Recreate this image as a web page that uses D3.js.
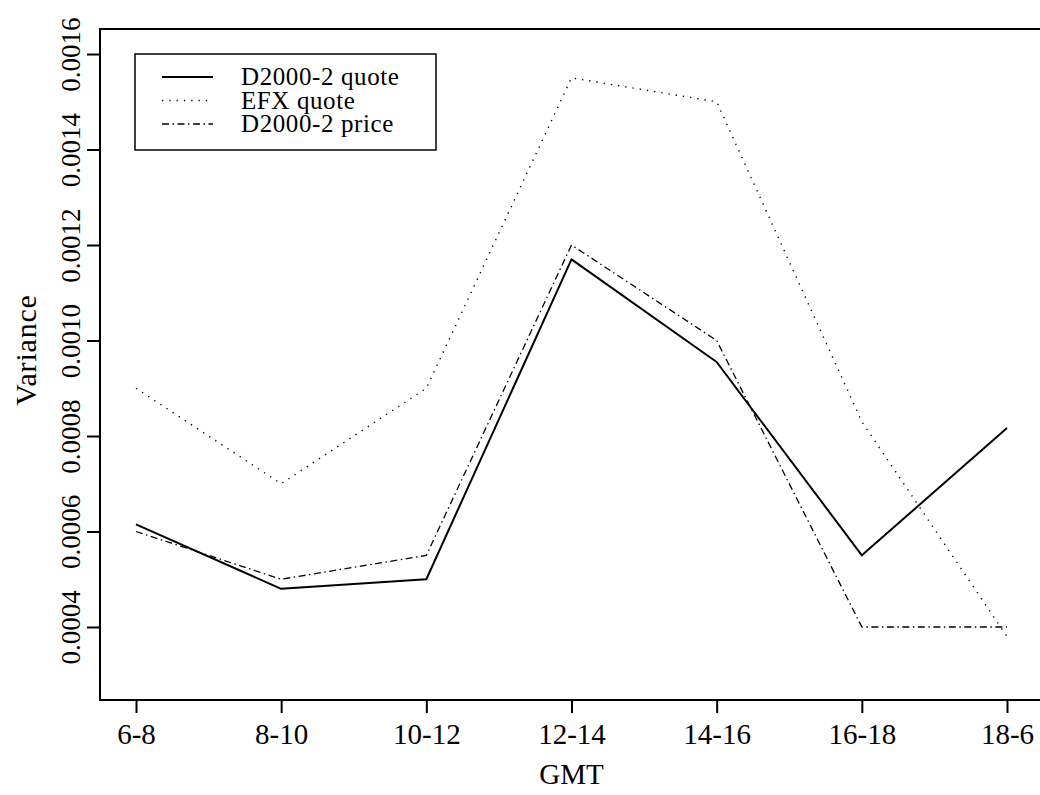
<!DOCTYPE html>
<html>
<head>
<meta charset="utf-8">
<script src="https://cdn.jsdelivr.net/npm/d3@7"></script>
<style>
  body { margin: 0; background: #fff; }
  svg text { font-family: "Liberation Serif", "Times New Roman", serif; fill: #000; }
</style>
</head>
<body>
<svg id="chart" width="1040" height="795"></svg>
<script>
// time-of-day buckets (GMT)
const periods = ["6-8", "8-10", "10-12", "12-14", "14-16", "16-18", "18-6"]

const d2000Quote = [0.000615, 0.00048, 0.0005, 0.00117, 0.000955, 0.00055, 0.000817]
const efxQuote   = [0.0009, 0.0007, 0.0009, 0.00155, 0.0015, 0.00083, 0.00038]
const d2000Price = [0.0006, 0.0005, 0.00055, 0.0012, 0.001, 0.0004, 0.0004]

const yTicks = [0.0004, 0.0006, 0.0008, 0.0010, 0.0012, 0.0014, 0.0016]

const series = [
    { name: "D2000-2 quote", values: d2000Quote, dash: null, width: 2 },
    { name: "EFX quote", values: efxQuote, dash: "1.3,6", width: 1.4 },
    { name: "D2000-2 price", values: d2000Price, dash: "7,3.5,1.5,3.5", width: 1.3 },
]

const svg = d3.select("#chart")
const plotL = 100, plotT = 29, plotB = 700, plotR = 1043

let x = d3.scaleLinear()
    .domain([0, periods.length - 1])
    .range([136, 1007])

let y = d3.scaleLinear()
    .domain([0.0002471, 0.0016524])
    .range([plotB, plotT])

// frame
svg.append("rect")
    .attr("x", plotL)
    .attr("y", plotT)
    .attr("width", plotR - plotL)
    .attr("height", plotB - plotT)
    .attr("fill", "none")
    .attr("stroke", "#000")
    .attr("stroke-width", 2)

// x axis
let xAxis = svg.append("g")
    .attr("transform", `translate(0, ${plotB})`)
    .call(d3.axisBottom(x)
        .tickValues(d3.range(periods.length))
        .tickFormat(i => periods[i])
        .tickSize(13)
        .tickPadding(10))
xAxis.attr("font-family", null)
xAxis.select(".domain").remove()
xAxis.selectAll("line").attr("stroke-width", 2)
xAxis.selectAll("text")
    .attr("font-size", 29)
    .attr("dy", "0.71em")

// y axis, labels turned to run along the axis
let yAxis = svg.append("g")
    .attr("transform", `translate(${plotL}, 0)`)
    .call(d3.axisLeft(y)
        .tickValues(yTicks)
        .tickFormat(d3.format(".4f"))
        .tickSize(13))
yAxis.attr("font-family", null)
yAxis.select(".domain").remove()
yAxis.selectAll("line").attr("stroke-width", 2)
yAxis.selectAll("text")
    .attr("x", null)
    .attr("dy", null)
    .attr("text-anchor", "middle")
    .attr("font-size", 27)
    .attr("transform", "translate(-20, 0) rotate(-90)")

// lines
let line = d3.line()
    .x((d, i) => x(i))
    .y(d => y(d))

series.forEach(s => {
    svg.append("path")
        .datum(s.values)
        .attr("d", line)
        .attr("fill", "none")
        .attr("stroke", "#000")
        .attr("stroke-width", s.width)
        .attr("stroke-dasharray", s.dash)
        .attr("stroke-linejoin", "round")
})

// axis titles
svg.append("text")
    .text("GMT")
    .attr("x", (plotL + plotR) / 2)
    .attr("y", 784)
    .attr("text-anchor", "middle")
    .attr("font-size", 29)

svg.append("text")
    .text("Variance")
    .attr("transform", "translate(36, 350) rotate(-90)")
    .attr("text-anchor", "middle")
    .attr("font-size", 30)
    .attr("letter-spacing", 0.8)

// legend
let legend = svg.append("g")
legend.append("rect")
    .attr("x", 135)
    .attr("y", 54)
    .attr("width", 301)
    .attr("height", 96)
    .attr("fill", "#fff")
    .attr("stroke", "#000")
    .attr("stroke-width", 1.5)

series.forEach((s, i) => {
    let ly = 77 + i * 23.5
    legend.append("line")
        .attr("x1", 162)
        .attr("x2", 213)
        .attr("y1", ly)
        .attr("y2", ly)
        .attr("stroke", "#000")
        .attr("stroke-width", s.width)
        .attr("stroke-dasharray", s.dash)
    legend.append("text")
        .text(s.name)
        .attr("x", 241)
        .attr("y", ly + 8)
        .attr("font-size", 25)
        .attr("letter-spacing", 0.6)
})
</script>
</body>
</html>
